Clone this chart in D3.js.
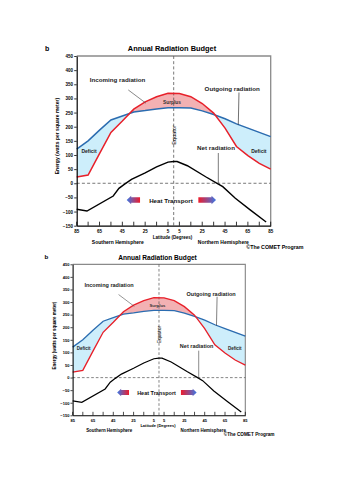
<!DOCTYPE html>
<html><head><meta charset="utf-8">
<script src="https://cdn.jsdelivr.net/npm/d3@7"></script>
<style>
body{margin:0;background:#fff}
svg{display:block}
text{font-family:"Liberation Sans",Arial,sans-serif}
</style>
</head><body>
<svg id="c" width="353" height="500"></svg>
<script>
// ---- data ----
const latitudes = [-85,-75,-65,-55,-45,-35,-25,-15,-5,5,15,25,35,45,55,65,75,85];
const incoming  = [22,29,105,180,220,262,288,306,318,317,306,282,248,195,130,98,70,50];
const outgoing  = [121,150,188,224,238,252,257,263,267,267,266,256,243,228,210,195,180,165];
const netLatitudes = [-85,-76,-53,-48,-43,-37,-25,-15,-5,0,3,12,28,38,43,54,67,81];
const netRadiation = [-92,-98,-45,-18,-3,14,37,58,75,77,77,62,23,0,-12,-53,-94,-137];
const yTickValues = [450,400,350,300,250,200,150,100,50,0,-50,-100,-150];
const xTickLatitudes = [-85,-75,-65,-55,-45,-35,-25,-15,-5,5,15,25,35,45,55,65,75,85];
const xLabelLatitudes = [-85,-65,-45,-25,-5,5,25,45,65,85];

const svg = d3.select("#c");
const x = d3.scaleLinear().domain([-85,85]).range([76.7,270.7]);
const y = d3.scaleLinear().domain([-150,450]).range([225.7,56]);
const X0 = x.range()[0], X1 = x.range()[1], YT = y.range()[1], YB = y.range()[0];

const pts = latitudes.map((l,i)=>({lat:l, inc:incoming[i], out:outgoing[i]}));
const netPts = netLatitudes.map((l,i)=>({lat:l, v:netRadiation[i]}));

function drawChart(g, id){
  const defs = g.append("defs");
  const bluePts = pts.map(d=>[x(d.lat), y(d.out)]);
  defs.append("clipPath").attr("id","above"+id).append("path")
    .attr("d", d3.line()(bluePts.concat([[X1,YT-5],[X0,YT-5]]))+"Z");
  defs.append("clipPath").attr("id","below"+id).append("path")
    .attr("d", d3.line()(bluePts.concat([[X1,YB+5],[X0,YB+5]]))+"Z");
  const gradR = defs.append("linearGradient").attr("id","gr"+id).attr("x1","0").attr("x2","1").attr("y1","0").attr("y2","0");
  gradR.append("stop").attr("offset","0").attr("stop-color","#ee1c2c");
  gradR.append("stop").attr("offset","1").attr("stop-color","#3b78e6");
  const gradL = defs.append("linearGradient").attr("id","gl"+id).attr("x1","0").attr("x2","1").attr("y1","0").attr("y2","0");
  gradL.append("stop").attr("offset","0").attr("stop-color","#3b78e6");
  gradL.append("stop").attr("offset","1").attr("stop-color","#ee1c2c");

  // "b" and title
  g.append("text").attr("x",45).attr("y",50.5).attr("font-size",7).attr("font-weight","bold").text("b");
  g.append("text").attr("x",172).attr("y",50.8).attr("text-anchor","middle")
    .attr("font-size",7.4).attr("font-weight","bold").text("Annual Radiation Budget");

  // fills
  const band = d3.area().x(d=>x(d.lat)).y0(d=>y(d.out)).y1(d=>y(d.inc));
  g.append("path").datum(pts).attr("d",band).attr("fill","#f3b1b3").attr("clip-path","url(#above"+id+")");
  g.append("path").datum(pts).attr("d",band).attr("fill","#cdeefb").attr("clip-path","url(#below"+id+")");

  // frame (top/right grey)
  g.append("path").attr("d",`M${X0},${YT}H${X1}V${YB}`).attr("fill","none").attr("stroke","#8a8a8a").attr("stroke-width",1.3);

  // dashed reference lines
  g.append("line").attr("x1",X0).attr("x2",X1).attr("y1",y(0)).attr("y2",y(0))
    .attr("stroke","#555").attr("stroke-width",0.8).attr("stroke-dasharray","3,2.2");
  g.append("line").attr("x1",x(0)).attr("x2",x(0)).attr("y1",YT).attr("y2",YB)
    .attr("stroke","#555").attr("stroke-width",0.8).attr("stroke-dasharray","3,2.2");

  // lines
  const lineOut = d3.line().x(d=>x(d.lat)).y(d=>y(d.out));
  const lineInc = d3.line().x(d=>x(d.lat)).y(d=>y(d.inc));
  const lineNet = d3.line().x(d=>x(d.lat)).y(d=>y(d.v));
  g.append("path").datum(pts).attr("d",lineOut).attr("fill","none").attr("stroke","#2b6cb0").attr("stroke-width",1.5);
  g.append("path").datum(pts).attr("d",lineInc).attr("fill","none").attr("stroke","#e8202a").attr("stroke-width",1.5);
  g.append("path").datum(netPts).attr("d",lineNet).attr("fill","none").attr("stroke","#000").attr("stroke-width",1.4);

  // y axis
  const ya = g.append("g").attr("transform",`translate(${X0},0)`)
    .call(d3.axisLeft(y).tickValues(yTickValues).tickSize(2.5).tickPadding(1.2).tickSizeOuter(0));
  ya.select(".domain").attr("stroke","#000").attr("stroke-width",1.2);
  ya.selectAll(".tick line").attr("stroke","#000").attr("stroke-width",0.8);
  ya.selectAll(".tick text").attr("font-size",4.5).attr("font-weight","bold").attr("fill","#000")
    .attr("font-family","'Liberation Sans',Arial,sans-serif");

  // x axis (ticks pointing up)
  const xa = g.append("g").attr("transform",`translate(0,${YB})`)
    .call(d3.axisBottom(x).tickValues(xTickLatitudes).tickSize(0).tickSizeOuter(0).tickFormat(""));
  xa.select(".domain").attr("stroke","#000").attr("stroke-width",1.2);
  g.selectAll(".xt").data(xTickLatitudes).enter().append("line")
    .attr("x1",d=>x(d)).attr("x2",d=>x(d)).attr("y1",YB).attr("y2",YB-4)
    .attr("stroke","#000").attr("stroke-width",0.8);
  g.selectAll(".xl").data(xLabelLatitudes).enter().append("text")
    .attr("x",d=>x(d)).attr("y",YB+7).attr("text-anchor","middle")
    .attr("font-size",4.5).attr("font-weight","bold").text(d=>Math.abs(d));

  // axis titles
  g.append("text").attr("transform",`translate(58.5,${y(167)}) rotate(-90)`).attr("text-anchor","middle")
    .attr("font-size",5).attr("font-weight","bold").text("Energy (watts per square meter)");
  g.append("text").attr("x",x(-1)).attr("y",YB+12.8).attr("text-anchor","middle")
    .attr("font-size",4.5).attr("font-weight","bold").text("Latitude (Degrees)");
  g.append("text").attr("x",x(-49)).attr("y",YB+18.5).attr("text-anchor","middle")
    .attr("font-size",5).attr("font-weight","bold").text("Southern Hemisphere");
  g.append("text").attr("x",x(43.5)).attr("y",YB+18.5).attr("text-anchor","middle")
    .attr("font-size",5).attr("font-weight","bold").text("Northern Hemisphere");
  g.append("text").attr("x",303.5).attr("y",YB+23.5).attr("text-anchor","end")
    .attr("font-size",5.3).attr("font-weight","bold").text("\u00A9The COMET Program");

  // Equator
  g.append("text").attr("transform",`translate(${x(0)+2},${y(171)}) rotate(-90)`).attr("text-anchor","middle")
    .attr("font-size",5.6).text("Equator");

  // annotations
  const lead = (a,b,c)=>g.append("line").attr("x1",x(a[0])).attr("y1",y(a[1])).attr("x2",x(b[0])).attr("y2",y(b[1]))
    .attr("stroke",c).attr("stroke-width",0.7);
  g.append("text").attr("x",x(-49.2)).attr("y",y(358)).attr("text-anchor","middle")
    .attr("font-size",6.2).attr("font-weight","bold").attr("fill","#222").text("Incoming radiation");
  lead([-39.8,330],[-24.3,283],"#555");
  g.append("text").attr("x",x(51.3)).attr("y",y(326)).attr("text-anchor","middle")
    .attr("font-size",6.2).attr("font-weight","bold").attr("fill","#222").text("Outgoing radiation");
  lead([57.2,321],[56.6,207],"#333");
  g.append("text").attr("x",x(37.1)).attr("y",y(116)).attr("text-anchor","middle")
    .attr("font-size",6.2).attr("font-weight","bold").attr("fill","#222").text("Net radiation");
  lead([39.1,107],[39.1,0],"#444");
  g.append("text").attr("x",x(-1.5)).attr("y",y(282)).attr("text-anchor","middle")
    .attr("font-size",4.8).attr("font-weight","bold").attr("fill","#333").text("Surplus");
  g.append("text").attr("x",x(-74.2)).attr("y",y(108)).attr("text-anchor","middle")
    .attr("font-size",5).attr("font-weight","bold").attr("fill","#222").text("Deficit");
  g.append("text").attr("x",x(74.6)).attr("y",y(108)).attr("text-anchor","middle")
    .attr("font-size",5).attr("font-weight","bold").attr("fill","#222").text("Deficit");

  // heat transport
  g.append("text").attr("x",x(-2.4)).attr("y",y(-68)).attr("text-anchor","middle")
    .attr("font-size",6.2).attr("font-weight","bold").attr("fill","#111").text("Heat Transport");
  const ay = y(-59);
  function arrow(tipLat, tailLat, fill){
    const xt = x(tipLat), xb = x(tailLat), dir = xb > xt ? 1 : -1;
    const hl = 4.5, hh = 4.3, bh = 2.8;
    const p = d3.path();
    p.moveTo(xt, ay);
    p.lineTo(xt+dir*hl, ay-hh);
    p.lineTo(xt+dir*hl, ay-bh);
    p.lineTo(xb, ay-bh);
    p.lineTo(xb, ay+bh);
    p.lineTo(xt+dir*hl, ay+bh);
    p.lineTo(xt+dir*hl, ay+hh);
    p.closePath();
    g.append("path").attr("d",p.toString()).attr("fill",fill);
  }
  arrow(-41.2,-29.5,"url(#gl"+id+")");
  arrow(37.1,21.6,"url(#gr"+id+")");
}

drawChart(svg.append("g"), "a");
drawChart(svg.append("g").attr("transform","translate(4.4,214.5) scale(0.89)"), "b");
</script>
</body></html>
